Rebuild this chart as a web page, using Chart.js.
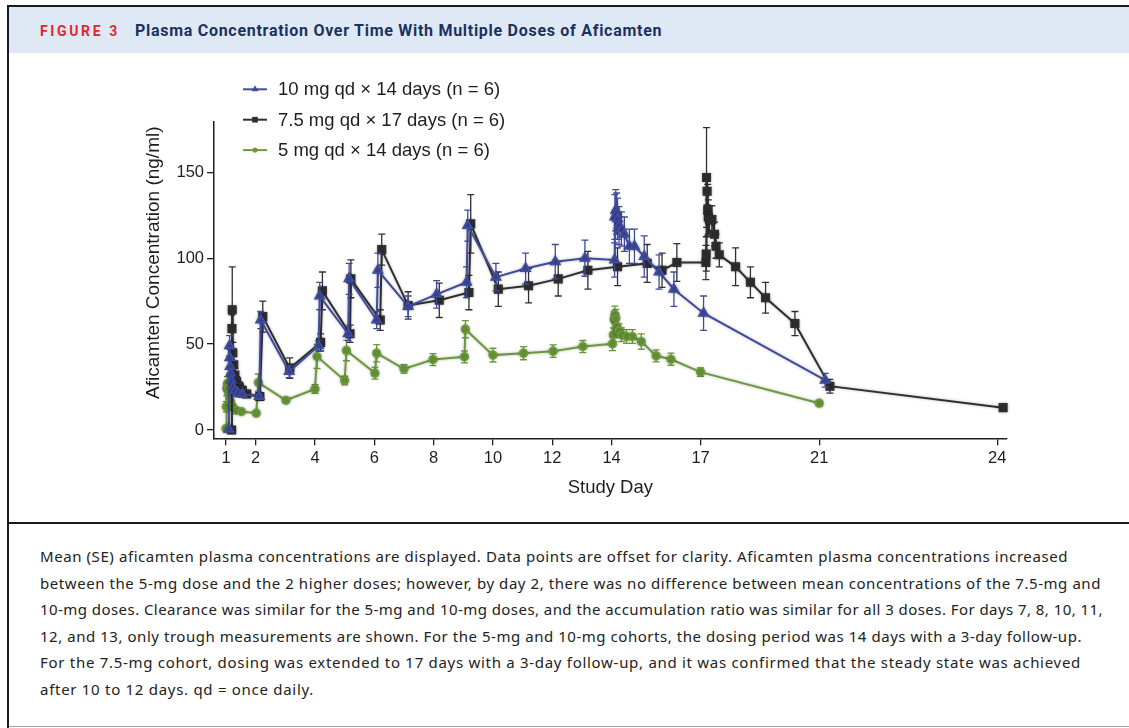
<!DOCTYPE html>
<html>
<head>
<meta charset="utf-8">
<script src="https://cdn.jsdelivr.net/npm/chart.js@4.4.1/dist/chart.umd.min.js"></script>
<style>
  html, body { margin: 0; padding: 0; background: #fff; }
  body { width: 1129px; height: 728px; position: relative; overflow: hidden; }
  .frame-left { position: absolute; left: 7px; top: 5px; width: 2px; height: 723px; background: #1a1a1a; }
  .frame-top { position: absolute; left: 7px; top: 5px; right: 0; height: 2px; background: #1a1a1a; }
  .frame-bottom { position: absolute; left: 9px; top: 726px; right: 0; height: 1px; background: #a0a0a0; }
  .header { position: absolute; left: 9px; top: 7px; right: 0; height: 46px; background: #dfe9f5; }
  .fig-no { position: absolute; left: 40px; top: 21px; font: 700 14px Roboto, sans-serif; color: #e3262b; line-height: 20px; white-space: nowrap; }
  .fig-title { position: absolute; left: 135px; top: 21px; font: 700 16px Roboto, sans-serif; color: #1c3160; line-height: 20px; white-space: nowrap; }
  .chart-box { position: absolute; left: 0; top: 53px; width: 1129px; height: 470px; }
  .divider { position: absolute; left: 7px; top: 522px; right: 0; height: 2px; background: #1a1a1a; }
  .caption { position: absolute; left: 40px; top: 543px; font: 15px "Noto Sans", Lato, sans-serif; line-height: 26.5px; color: #222; white-space: nowrap; }
  .caption div { display: inline-block; }
</style>
</head>
<body>
<div class="header"></div>
<div class="frame-top"></div>
<div class="frame-left"></div>
<div class="fig-no" id="figNo">FIGURE 3</div>
<div class="fig-title" id="figTitle">Plasma Concentration Over Time With Multiple Doses of Aficamten</div>
<div class="chart-box"><canvas id="pkChart"></canvas></div>
<div class="divider"></div>
<div class="caption" id="caption">
<div data-w="1028">Mean (SE) aficamten plasma concentrations are displayed. Data points are offset for clarity. Aficamten plasma concentrations increased</div><br>
<div data-w="1061">between the 5-mg dose and the 2 higher doses; however, by day 2, there was no difference between mean concentrations of the 7.5-mg and</div><br>
<div data-w="1063">10-mg doses. Clearance was similar for the 5-mg and 10-mg doses, and the accumulation ratio was similar for all 3 doses. For days 7, 8, 10, 11,</div><br>
<div data-w="1042">12, and 13, only trough measurements are shown. For the 5-mg and 10-mg cohorts, the dosing period was 14 days with a 3-day follow-up.</div><br>
<div data-w="1041">For the 7.5-mg cohort, dosing was extended to 17 days with a 3-day follow-up, and it was confirmed that the steady state was achieved</div><br>
<div data-w="274">after 10 to 12 days. qd = once daily.</div>
</div>
<div class="frame-bottom"></div>

<script>
// Libellés et graduations
const seriesLabels = ['10 mg qd \u00d7 14 days (n = 6)', '7.5 mg qd \u00d7 17 days (n = 6)', '5 mg qd \u00d7 14 days (n = 6)'];
const xTickDays = [1, 2, 4, 6, 8, 10, 12, 14, 17, 21, 24];
const yTickValues = [0, 50, 100, 150];

// 10 mg (triangles bleus) : jour d'étude, moyenne, SE
const days10 = [1.10, 1.12, 1.13, 1.14, 1.16, 1.19, 1.24, 1.30, 1.40, 1.55, 2.12, 2.17, 3.13, 4.12, 4.16, 5.12, 5.15, 6.08, 6.12, 7.14, 8.10, 9.11, 9.15, 10.10, 11.10, 12.10, 13.10, 14.10, 14.11, 14.14, 14.17, 14.20, 14.25, 14.33, 14.43, 14.60, 14.77, 15.10, 15.60, 16.10, 17.10, 21.10];
const conc10 = [0.5, 49, 42, 37, 33, 29, 25, 23, 21.5, 21, 19.5, 64, 34, 49, 78, 56, 88, 64, 93, 72, 79, 86, 119, 89, 94, 98, 100, 99, 124, 128, 126, 123, 119, 117, 114, 107, 107, 101, 92, 82, 68, 29];
const se10 = [0.5, 6, 5, 4, 3.5, 3, 2.5, 2, 2, 2, 1.5, 5, 3.5, 3, 8, 4, 9, 5, 10, 6, 8, 9, 9, 8, 9, 10, 10.5, 10, 13, 12, 12, 12, 11, 10, 10, 10, 10, 12, 10, 10, 10, 4];

// 7.5 mg (carrés noirs)
const days75 = [1.19, 1.20, 1.21, 1.23, 1.26, 1.30, 1.36, 1.45, 1.55, 1.70, 2.14, 2.24, 3.15, 4.19, 4.25, 5.18, 5.21, 6.20, 6.25, 7.14, 8.19, 9.19, 9.25, 10.18, 11.20, 12.20, 13.20, 14.20, 15.20, 15.70, 16.20, 17.18, 17.19, 17.20, 17.22, 17.24, 17.26, 17.30, 17.38, 17.47, 17.52, 17.63, 18.18, 18.68, 19.19, 20.18, 21.18, 24.10];
const conc75 = [0, 59, 70, 45, 38, 32, 28, 25, 23, 21, 19.5, 66, 36, 51, 81, 56, 88, 64, 105, 72.5, 75.5, 80, 120, 82, 84, 88, 93, 95, 97, 93, 97.5, 97.5, 102.5, 147, 139, 128, 124, 122.5, 122.5, 114, 107, 102, 95, 86, 77, 62, 25.5, 13];
const se75 = [0, 8, 25, 6, 5, 4, 3, 3, 2.5, 2, 2, 9, 6, 5, 11, 5, 11, 6, 9, 8, 10, 10, 17, 10, 10, 10, 11, 11, 11, 10, 11, 10, 10, 29, 8, 15, 10, 8, 8, 7, 7, 7, 11, 9, 9, 7, 4, 1];

// 5 mg (ronds verts)
const days5 = [1.00, 1.01, 1.03, 1.05, 1.07, 1.10, 1.15, 1.22, 1.33, 1.52, 2.02, 2.09, 3.02, 4.00, 4.07, 5.00, 5.06, 6.02, 6.08, 7.00, 7.98, 9.04, 9.07, 10.00, 11.03, 12.03, 13.03, 14.03, 14.06, 14.09, 14.11, 14.14, 14.17, 14.25, 14.33, 14.50, 14.70, 15.00, 15.50, 16.00, 17.00, 21.00];
const conc5 = [0.8, 13.5, 24, 27, 25, 21, 17, 13.5, 11.5, 10.7, 9.8, 27.6, 17.3, 23.9, 42.8, 28.8, 46.3, 33.1, 44.7, 35.6, 41, 42.6, 58.7, 43.6, 44.7, 45.9, 48.6, 50.2, 55.4, 64.2, 67.1, 65.2, 60.3, 57.8, 55.4, 54.4, 54.4, 51.5, 43.2, 41.2, 33.7, 15.6];
const se5 = [0.5, 3, 4, 4, 4, 3, 2.5, 2, 1.5, 1, 1, 5, 1.5, 2.5, 7, 2.5, 6, 3.5, 5, 2.5, 3.5, 3.5, 5, 4, 3.8, 3.6, 3.5, 4, 4, 5, 5, 5, 4.5, 4, 4, 4, 4, 4.5, 3.5, 3.5, 2.5, 1.5];

// L'axe est étiré après le jour 21 (échelle x2)
function axisPos(day) {
    return day <= 21 ? day : 21 + (day - 21) * 2;
}

function toPoints(days, conc) {
    return days.map((d, i) => ({ x: axisPos(d), y: conc[i] }));
}

// Ajuste l'interlettrage pour tenir une largeur donnée
function fitWidth(el, target) {
    el.style.letterSpacing = '0px';
    const w = el.getBoundingClientRect().width;
    const n = el.textContent.trim().length;
    el.style.letterSpacing = ((target - w) / n) + 'px';
}

const AXIS_FONT = '"Liberation Sans", Arial, sans-serif';
const INK = '#1e1e1e';

// Barres d'erreur (SE) + halo gris sous les courbes
const errorBars = {
    id: 'errorBars',
    beforeDatasetDraw(chart, args) {
        const ds = chart.data.datasets[args.index];
        const ctx = chart.ctx;
        const yScale = chart.scales.y;
        ctx.save();
        ctx.strokeStyle = ds.borderColor;
        ctx.lineWidth = 1.3;
        args.meta.data.forEach((pt, i) => {
            const se = ds.errors[i];
            if (!se) return;
            const v = ds.data[i].y;
            const top = yScale.getPixelForValue(v + se);
            const bot = yScale.getPixelForValue(Math.max(v - se, 0));
            ctx.beginPath();
            ctx.moveTo(pt.x, top);
            ctx.lineTo(pt.x, bot);
            ctx.moveTo(pt.x - 3.5, top);
            ctx.lineTo(pt.x + 3.5, top);
            ctx.moveTo(pt.x - 3.5, bot);
            ctx.lineTo(pt.x + 3.5, bot);
            ctx.stroke();
        });
        ctx.restore();
        ctx.save();
        ctx.shadowColor = 'rgba(0, 0, 0, 0.3)';
        ctx.shadowBlur = 3;
    },
    afterDatasetDraw(chart) {
        chart.ctx.restore();
    }
};

// Légende intégrée + titre de l'axe Y
const insetLegend = {
    id: 'insetLegend',
    afterDraw(chart) {
        const { ctx, chartArea } = chart;
        ctx.save();
        ctx.font = '18.5px ' + AXIS_FONT;
        ctx.textBaseline = 'middle';
        ctx.fillStyle = INK;
        chart.data.datasets.forEach((ds, i) => {
            const y = chartArea.top - 32.4 + i * 30.4;
            const x0 = chartArea.left + 29;
            ctx.strokeStyle = ds.borderColor;
            ctx.lineWidth = 2;
            ctx.beginPath();
            ctx.moveTo(x0, y);
            ctx.lineTo(x0 + 24, y);
            ctx.stroke();
            ctx.fillStyle = ds.borderColor;
            Chart.helpers.drawPoint(ctx, {
                pointStyle: ds.pointStyle,
                radius: ds.legendRadius,
                rotation: 0,
                borderWidth: 0
            }, x0 + 12, y);
            ctx.fillStyle = INK;
            ctx.fillText(ds.label, chartArea.left + 64, y + 1);
        });

        // titre Y
        ctx.font = '19px ' + AXIS_FONT;
        ctx.translate(chartArea.left - 60, chartArea.top + 141);
        ctx.rotate(-Math.PI / 2);
        ctx.textAlign = 'center';
        ctx.fillText('Aficamten Concentration (ng/ml)', 0, 0);
        ctx.restore();
    }
};

document.addEventListener('DOMContentLoaded', function() {
    // Mise en page du texte (en-tête et légende de figure)
    fitWidth(document.getElementById('figNo'), 80);
    fitWidth(document.getElementById('figTitle'), 527);
    document.querySelectorAll('#caption div').forEach(l => fitWidth(l, Number(l.dataset.w)));

    const ctx = document.getElementById('pkChart').getContext('2d');
    new Chart(ctx, {
        type: 'line',
        data: {
            datasets: [
                {
                    label: seriesLabels[0],
                    data: toPoints(days10, conc10),
                    errors: se10,
                    borderColor: '#3f4b9e',
                    backgroundColor: '#3f4b9e',
                    pointStyle: 'triangle',
                    pointRadius: 5,
                    legendRadius: 4,
                    borderWidth: 2
                },
                {
                    label: seriesLabels[1],
                    data: toPoints(days75, conc75),
                    errors: se75,
                    borderColor: '#2f2f2f',
                    backgroundColor: '#2f2f2f',
                    pointStyle: 'rect',
                    pointRadius: 5,
                    legendRadius: 4,
                    borderWidth: 2
                },
                {
                    label: seriesLabels[2],
                    data: toPoints(days5, conc5),
                    errors: se5,
                    borderColor: '#6b9a3a',
                    backgroundColor: '#6b9a3a',
                    pointStyle: 'circle',
                    pointRadius: 3.6,
                    legendRadius: 2.6,
                    borderWidth: 2
                }
            ]
        },
        options: {
            responsive: true,
            maintainAspectRatio: false,
            animation: false,
            clip: false,
            layout: {
                padding: { top: 68.7, right: 122.3, left: 0, bottom: 0 }
            },
            elements: {
                line: { tension: 0 },
                point: { borderWidth: 0, hoverRadius: 5 }
            },
            plugins: {
                legend: { display: false },
                tooltip: { enabled: false }
            },
            scales: {
                x: {
                    type: 'linear',
                    min: 0.595,
                    max: 27.32,
                    afterBuildTicks: function(scale) {
                        scale.ticks = xTickDays.map(d => ({ value: axisPos(d) }));
                    },
                    afterFit: function(scale) {
                        scale.height = 84.7;
                    },
                    ticks: {
                        autoSkip: false,
                        maxRotation: 0,
                        padding: 3,
                        color: INK,
                        font: { family: AXIS_FONT, size: 16.5 },
                        callback: function(value, index) {
                            return String(xTickDays[index]);
                        }
                    },
                    grid: {
                        drawOnChartArea: false,
                        tickLength: 7,
                        color: INK,
                        lineWidth: 1.3
                    },
                    border: { color: INK, width: 1.5 },
                    title: {
                        display: true,
                        text: 'Study Day',
                        color: INK,
                        font: { family: AXIS_FONT, size: 18.5 },
                        padding: { top: 0, bottom: 24 }
                    }
                },
                y: {
                    min: -4.84,
                    max: 179.5,
                    afterBuildTicks: function(scale) {
                        scale.ticks = yTickValues.map(v => ({ value: v }));
                    },
                    afterFit: function(scale) {
                        scale.width = 214;
                    },
                    ticks: {
                        padding: 3,
                        color: INK,
                        font: { family: AXIS_FONT, size: 16.5 }
                    },
                    grid: {
                        drawOnChartArea: false,
                        tickLength: 7,
                        color: INK,
                        lineWidth: 1.3
                    },
                    border: { color: INK, width: 1.5 }
                }
            }
        },
        plugins: [errorBars, insetLegend]
    });
});
</script>
</body>
</html>
